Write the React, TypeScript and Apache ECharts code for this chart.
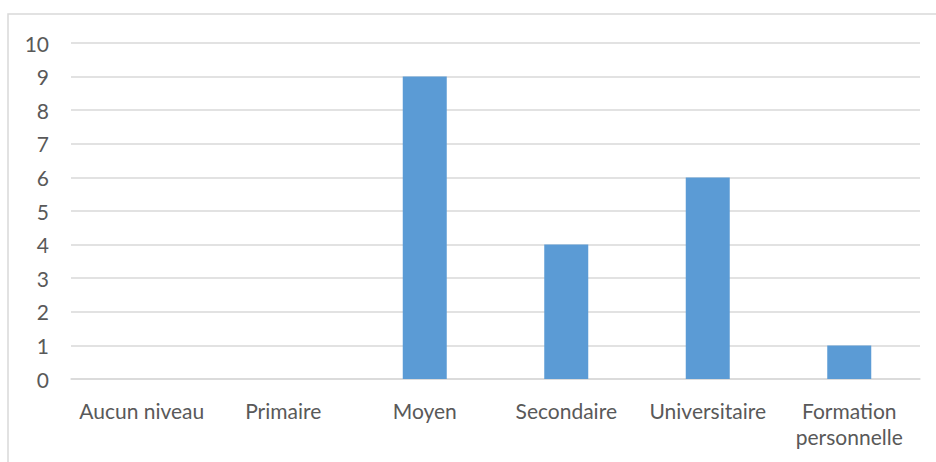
import React, { useEffect, useRef } from "react";
import * as echarts from "echarts";

const categories = ["Aucun niveau", "Primaire", "Moyen", "Secondaire", "Universitaire", "Formation\npersonnelle"];
const values = [0, 0, 9, 4, 6, 1];

export default function App() {
  const ref = useRef<HTMLDivElement>(null);
  useEffect(() => {
    if (!ref.current) return;
    const chart = echarts.init(ref.current, null, { renderer: "svg" });
    const font = "Lato, 'Open Sans', sans-serif";
    chart.setOption({
      animation: false,
      backgroundColor: "#ffffff",
      graphic: [
        {
          type: "rect",
          shape: { x: 8, y: 14, width: 940, height: 460 },
          style: { fill: "none", stroke: "#D9D9D9", lineWidth: 1.5 },
          silent: true,
        },
      ],
      grid: { left: 71, right: 16, top: 43, bottom: 83, containLabel: false },
      xAxis: {
        type: "category",
        data: categories,
        axisLine: { show: true, lineStyle: { color: "#D9D9D9", width: 1.5 } },
        axisTick: { show: false },
        axisLabel: {
          color: "#595959",
          fontSize: 21,
          fontFamily: font,
          margin: 18,
          lineHeight: 26,
          interval: 0,
        },
      },
      yAxis: {
        type: "value",
        min: 0,
        max: 10,
        interval: 1,
        axisLine: { show: false },
        axisTick: { show: false },
        splitLine: { lineStyle: { color: "#D9D9D9", width: 1.5 } },
        axisLabel: { color: "#595959", fontSize: 21, fontFamily: font, margin: 22 },
      },
      series: [
        {
          type: "bar",
          data: values,
          barWidth: 44,
          itemStyle: { color: "#5B9BD5" },
        },
      ],
    });
    return () => chart.dispose();
  }, []);
  return (
    <div
      ref={ref}
      style={{ position: "fixed", left: 0, top: 0, width: 936, height: 462 }}
    />
  );
}
